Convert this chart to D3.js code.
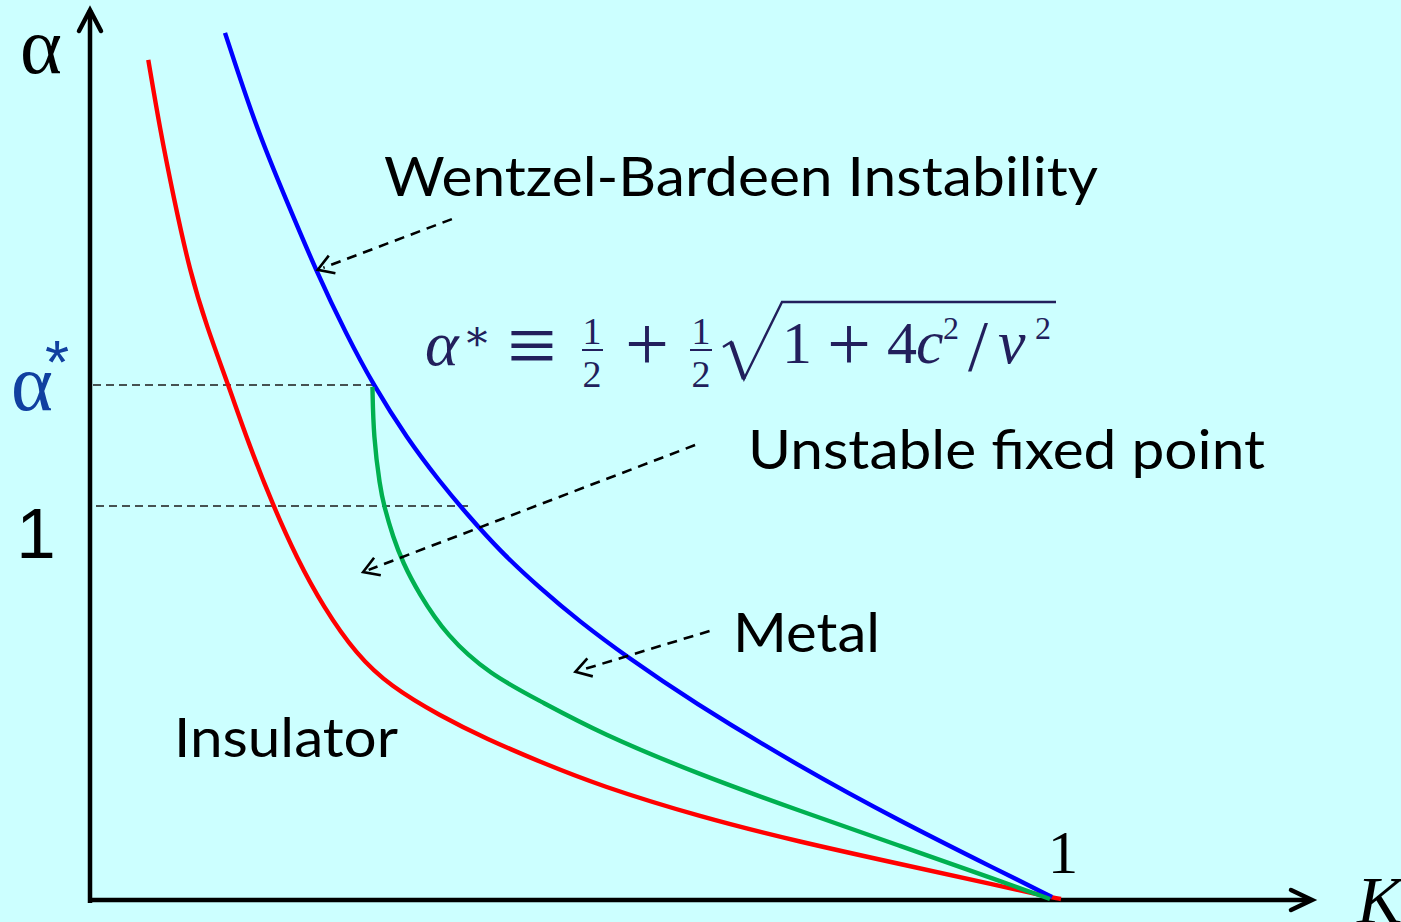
<!DOCTYPE html>
<html>
<head>
<meta charset="utf-8">
<script src="https://cdn.jsdelivr.net/npm/d3@7"></script>
<style>
  html, body { margin: 0; padding: 0; background: #ccffff; }
  svg { display: block; }
</style>
</head>
<body>
<svg id="chart" width="1401" height="922"></svg>
<script>
// Phase boundaries in the (K, alpha) plane
const kRed     = [0.0604, 0.0725, 0.0863, 0.1036, 0.1212, 0.1433, 0.1637, 0.1899, 0.2142, 0.2418, 0.2764, 0.3109, 0.3627, 0.4111, 0.4663, 0.5285, 0.6321, 0.7358, 0.8394, 0.9430, 0.9948, 1.0062];
const alphaRed = [2.135, 1.959, 1.789, 1.595, 1.455, 1.308, 1.163, 1.000, 0.868, 0.743, 0.621, 0.542, 0.466, 0.407, 0.349, 0.288, 0.209, 0.145, 0.089, 0.033, 0.005, 0.000];

const kBlue     = [0.1399, 0.1727, 0.2038, 0.2349, 0.2660, 0.2936, 0.3282, 0.3627, 0.3904, 0.4249, 0.4663, 0.5078, 0.5565, 0.6218, 0.7358, 0.8394, 0.9430, 0.9969];
const alphaBlue = [2.204, 1.959, 1.776, 1.595, 1.435, 1.308, 1.173, 1.061, 0.980, 0.885, 0.791, 0.705, 0.616, 0.506, 0.336, 0.198, 0.071, 0.005];

const kGreen     = [0.2927, 0.2938, 0.3005, 0.3047, 0.3140, 0.3244, 0.3399, 0.3696, 0.4145, 0.4663, 0.5285, 0.6321, 0.7358, 0.8394, 0.9430, 0.9948];
const alphaGreen = [1.303, 1.176, 1.048, 1.000, 0.921, 0.855, 0.781, 0.669, 0.571, 0.504, 0.422, 0.316, 0.224, 0.135, 0.046, 0.000];

// Reference levels on the alpha axis
const alphaStar = 1.308;
const yTickLabels = ["1", "α"];
const xTickLabel = "1";

// Annotation arrows (data coordinates: from -> tip)
const arrowFromK  = [0.375, 0.627, 0.642];
const arrowFromA  = [1.730, 1.155, 0.682];
const arrowToK    = [0.236, 0.283, 0.503];
const arrowToA    = [1.601, 0.832, 0.578];

const svg = d3.select("#chart");
const x = d3.scaleLinear().domain([0, 1]).range([90, 1055]);
const y = d3.scaleLinear().domain([0, 1]).range([899, 506]);

const zip = (ks, as) => ks.map((k, i) => ({ k, a: as[i] }));

// Axes with arrow heads
const axisG = svg.append("g").attr("stroke", "#000").attr("stroke-width", 4.5)
  .attr("fill", "none").attr("stroke-linecap", "butt");
axisG.append("line").attr("x1", x(0)).attr("x2", x(0)).attr("y1", 903).attr("y2", 10);
axisG.append("line").attr("x1", x(0) - 2).attr("x2", 1311).attr("y1", y(0) + 1).attr("y2", y(0) + 1);
axisG.append("path").attr("stroke-linejoin", "miter").attr("stroke-linecap", "round")
  .attr("d", `M${x(0) - 11},${31} L${x(0)},${10} L${x(0) + 11},${31}`);
axisG.append("path").attr("stroke-linejoin", "miter").attr("stroke-linecap", "round")
  .attr("d", `M${1291},${y(0) - 9} L${1312},${y(0) + 1} L${1291},${y(0) + 11}`);

// Dashed guide lines at alpha* and alpha = 1
const guides = svg.append("g").attr("stroke", "#1a1a1a").attr("stroke-width", 1.5)
  .attr("stroke-dasharray", "8,5");
guides.append("line").attr("x1", x(0) + 3).attr("x2", x(kGreen[0]) + 1)
  .attr("y1", y(alphaStar)).attr("y2", y(alphaStar));
guides.append("line").attr("x1", x(0) + 6).attr("x2", 468)
  .attr("y1", y(1)).attr("y2", y(1));

// Curves (B-spline through the sampled boundary points)
const line = d3.line().x(d => x(d.k)).y(d => y(d.a)).curve(d3.curveBasis);
const curves = [
  { pts: zip(kRed, alphaRed), color: "#ff0000" },
  { pts: zip(kBlue, alphaBlue), color: "#0000ff" },
  { pts: zip(kGreen, alphaGreen), color: "#00b050" }
];
svg.append("g").selectAll("path").data(curves).join("path")
  .attr("d", d => line(d.pts))
  .attr("fill", "none")
  .attr("stroke", d => d.color)
  .attr("stroke-width", 4.4)
  .attr("stroke-linecap", "butt");

// Dashed annotation arrows
const arrows = arrowFromK.map((k, i) => ({
  x1: x(k), y1: y(arrowFromA[i]), x2: x(arrowToK[i]), y2: y(arrowToA[i])
}));
const arrG = svg.append("g").attr("stroke", "#000").attr("fill", "none");
arrows.forEach(a => {
  const ang = Math.atan2(a.y2 - a.y1, a.x2 - a.x1);
  arrG.append("line")
    .attr("x1", a.x1).attr("y1", a.y1)
    .attr("x2", a.x2 - 6 * Math.cos(ang)).attr("y2", a.y2 - 6 * Math.sin(ang))
    .attr("stroke-width", 2.6).attr("stroke-dasharray", "10,7");
  const L = 18, spread = 0.55;
  const p1 = [a.x2 - L * Math.cos(ang - spread), a.y2 - L * Math.sin(ang - spread)];
  const p2 = [a.x2 - L * Math.cos(ang + spread), a.y2 - L * Math.sin(ang + spread)];
  arrG.append("path")
    .attr("d", `M${p1[0]},${p1[1]} L${a.x2},${a.y2} L${p2[0]},${p2[1]}`)
    .attr("stroke-width", 2.6).attr("stroke-linejoin", "miter");
});

// Text labels
const sans = "Lato, 'Open Sans', sans-serif";
const labels = [
  { t: "Wentzel-Bardeen Instability", x: 384, y: 196, w: 714 },
  { t: "Unstable fixed point", x: 748, y: 469, w: 517 },
  { t: "Metal", x: 733, y: 652, w: 147 },
  { t: "Insulator", x: 174, y: 757, w: 224 }
];
svg.append("g").selectAll("text").data(labels).join("text")
  .attr("x", d => d.x).attr("y", d => d.y)
  .attr("font-family", sans).attr("font-size", 54).attr("fill", "#000")
  .attr("textLength", d => d.w).attr("lengthAdjust", "spacingAndGlyphs")
  .text(d => d.t);

// Axis titles and tick labels
const serif = "'Liberation Serif', 'DejaVu Serif', serif";
svg.append("text").attr("x", 20).attr("y", 73)
  .attr("font-family", serif).attr("font-size", 80).attr("fill", "#000").text("α");
svg.append("text").attr("x", 1357).attr("y", 923)
  .attr("font-family", serif).attr("font-style", "italic").attr("font-size", 68)
  .attr("fill", "#000").text("K");
svg.append("text").attr("x", 36).attr("y", y(1) + 52).attr("text-anchor", "middle")
  .attr("font-family", "'Liberation Sans', Arial, sans-serif").attr("font-size", 71)
  .attr("fill", "#000").text(yTickLabels[0]);
const aStar = svg.append("text").attr("x", 11).attr("y", y(alphaStar) + 25)
  .attr("font-family", serif).attr("font-size", 80).attr("fill", "#1040a0");
aStar.append("tspan").text(yTickLabels[1]);
aStar.append("tspan").attr("dx", -8).attr("dy", -27)
  .attr("font-family", "'Liberation Sans', Arial, sans-serif").attr("font-size", 62).text("*");
svg.append("text").attr("x", x(1) + 8).attr("y", 873).attr("text-anchor", "middle")
  .attr("font-family", serif).attr("font-size", 61).attr("fill", "#000").text(xTickLabel);

// Formula: alpha* = 1/2 + 1/2 sqrt(1 + 4c^2/v^2)
const fc = "#221f5c";
const fg = svg.append("g").attr("fill", fc).attr("font-family", serif);
const ft = (s, xx, yy, size, opts = {}) => fg.append("text")
  .attr("x", xx).attr("y", yy).attr("font-size", size)
  .attr("text-anchor", opts.anchor || "start")
  .attr("font-style", opts.italic ? "italic" : "normal").text(s);
ft("α", 425, 365, 64, { italic: true });
ft("∗", 477, 350, 42, { anchor: "middle" });
ft("≡", 532, 375, 88, { anchor: "middle" });
ft("1", 592, 344, 38, { anchor: "middle" });
ft("2", 592, 387, 38, { anchor: "middle" });
ft("+", 647, 370, 78, { anchor: "middle" });
ft("1", 701, 344, 38, { anchor: "middle" });
ft("2", 701, 387, 38, { anchor: "middle" });
ft("1", 797, 363, 60, { anchor: "middle" });
ft("+", 849, 370, 78, { anchor: "middle" });
ft("4", 887, 363, 60);
ft("c", 916, 363, 62, { italic: true });
ft("2", 943, 339, 32);
ft("/", 978, 370, 72, { anchor: "middle" });
ft("v", 998, 363, 62, { italic: true });
ft("2", 1035, 339, 32);
const fl = svg.append("g").attr("stroke", fc).attr("fill", "none");
fl.append("line").attr("x1", 582).attr("x2", 603).attr("y1", 350).attr("y2", 350).attr("stroke-width", 2);
fl.append("line").attr("x1", 690).attr("x2", 712).attr("y1", 350).attr("y2", 350).attr("stroke-width", 2);
fl.append("path").attr("d", "M723,347 L731,342 L744,379 L782,302 L1056,302")
  .attr("stroke-width", 2.4).attr("stroke-linejoin", "miter");
fl.append("path").attr("d", "M731,342 L744,379").attr("stroke-width", 4.5);
</script>
</body>
</html>
